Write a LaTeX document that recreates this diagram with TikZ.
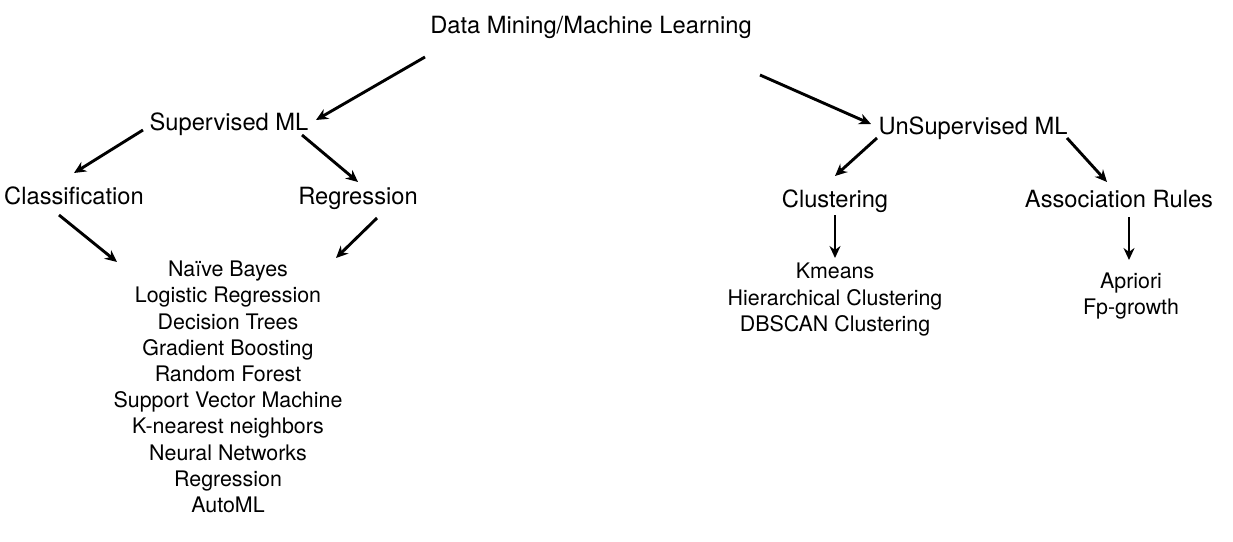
\documentclass[tikz,border=0pt]{standalone}
\usepackage{fontspec}
\setmainfont{TeX Gyre Heros}
\usepackage{tikz}
\usetikzlibrary{arrows.meta}

\begin{document}
\begin{tikzpicture}[x=1pt, y=-1pt,
    head/.style={font=\fontsize{23.7}{28}\selectfont, inner sep=0pt, anchor=base},
    items/.style={font=\fontsize{21.4}{26.2}\selectfont, inner sep=0pt, anchor=base, align=center},
    arr/.style={line width=2.9pt, -{Stealth[length=12pt, width=11pt]}}]
    \useasboundingbox (0,0) rectangle (1233,541);

    % Headings
    \node[head] (DM) at (591, 33.5) {Data Mining/Machine Learning};
    \node[head] (SUP) at (229, 130.5) {Supervised ML};
    \node[head] (UNSUP) at (973, 134.5) {UnSupervised ML};
    \node[head] (CLS) at (74, 204.5) {Classification};
    \node[head] (REG) at (358, 204.5) {Regression};
    \node[head] (CLU) at (835, 207.5) {Clustering};
    \node[head] (ASR) at (1119, 207.5) {Association Rules};

    % Lists (base = last line)
    \node[items] (SUPLIST) at (228, 512.5) {Na\"ive Bayes\\Logistic Regression\\Decision Trees\\Gradient Boosting\\Random Forest\\Support Vector Machine\\K-nearest neighbors\\Neural Networks\\Regression\\AutoML};
    \node[items] (CLULIST) at (835, 331.2) {Kmeans\\Hierarchical Clustering\\DBSCAN Clustering};
    \node[items] (ASRLIST) at (1131, 314.5) {Apriori\\Fp-growth};

    % Arrow ends
    \coordinate (DM-l) at (425, 57);
    \coordinate (DM-r) at (760, 75);
    \coordinate (SUP-in) at (316, 120);
    \coordinate (UNSUP-in) at (871, 124);
    \coordinate (SUP-l) at (143, 130);
    \coordinate (SUP-r) at (302, 135);
    \coordinate (CLS-in) at (74, 173);
    \coordinate (REG-in) at (358, 182);
    \coordinate (CLS-out) at (59, 215);
    \coordinate (REG-out) at (377, 218);
    \coordinate (SUPLIST-l) at (117, 262);
    \coordinate (SUPLIST-r) at (336, 258);
    \coordinate (UNSUP-l) at (877, 138);
    \coordinate (UNSUP-r) at (1067, 138);
    \coordinate (CLU-in) at (835, 176);
    \coordinate (ASR-in) at (1107, 182);
    \coordinate (CLU-out) at (835, 215);
    \coordinate (ASR-out) at (1129, 217);
    \coordinate (CLULIST-in) at (835, 258);
    \coordinate (ASRLIST-in) at (1129, 260);

    % Arrows
    \draw[arr] (DM-l) -- (SUP-in);
    \draw[arr] (DM-r) -- (UNSUP-in);
    \draw[arr] (SUP-l) -- (CLS-in);
    \draw[arr] (SUP-r) -- (REG-in);
    \draw[arr] (CLS-out) -- (SUPLIST-l);
    \draw[arr] (REG-out) -- (SUPLIST-r);
    \draw[arr] (UNSUP-l) -- (CLU-in);
    \draw[arr] (UNSUP-r) -- (ASR-in);
    \draw[arr] (CLU-out) -- (CLULIST-in);
    \draw[arr] (ASR-out) -- (ASRLIST-in);
\end{tikzpicture}
\end{document}
